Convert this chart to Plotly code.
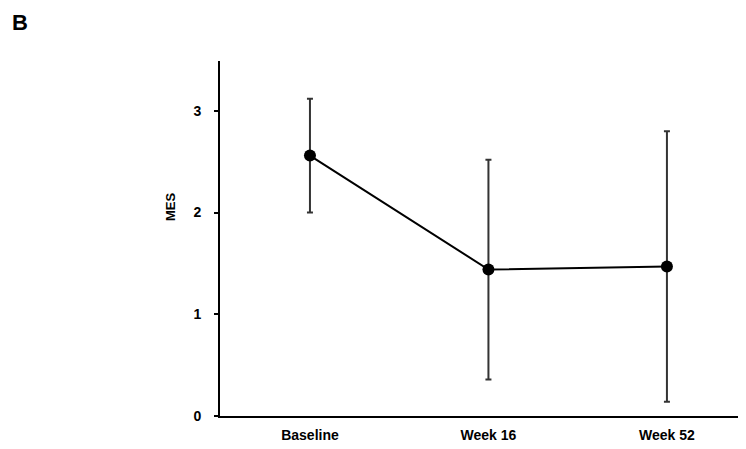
import plotly.graph_objects as go

categories = ["Baseline", "Week 16", "Week 52"]
mes_mean = [2.56, 1.44, 1.47]
mes_err = [0.56, 1.08, 1.33]
y_ticks = [0, 1, 2, 3]

x_pos = list(range(len(categories)))

# page body has an 8px margin, so the figure is 8px smaller and offset
W, H = 738, 441
L, R, T, B = 212, 0, 53, 33

fig = go.Figure()
fig.add_trace(go.Scatter(
    x=x_pos, y=mes_mean, mode="lines+markers",
    line=dict(color="black", width=2),
    marker=dict(color="black", size=12),
    error_y=dict(type="data", array=mes_err, visible=True,
                 color="#333333", thickness=2, width=3),
    showlegend=False,
))

font = dict(family="Liberation Sans, Arial", size=14, color="black")

pw, ph = W - L - R, H - T - B


def px_to_paper(x, y):
    return (x - L) / pw, (H - y - B) / ph


mes_x, mes_y = px_to_paper(162, 199)
b_x, b_y = px_to_paper(12, 15)

fig.update_layout(
    width=W, height=H,
    margin=dict(l=L, r=R, t=T, b=B),
    paper_bgcolor="white", plot_bgcolor="white",
    font=font,
    xaxis=dict(range=[-0.504, 2.443], tickvals=x_pos,
               ticktext=["<b>%s</b>" % c for c in categories],
               showline=True, linecolor="black", linewidth=2,
               ticks="", showgrid=False, zeroline=False,
               ticklabelstandoff=5),
    yaxis=dict(range=[0, 3.49], tickvals=y_ticks,
               ticktext=["<b>%d</b>" % v for v in y_ticks],
               showline=True, linecolor="black", linewidth=2,
               ticks="outside", ticklen=4, tickwidth=2, tickcolor="black",
               ticklabelstandoff=10,
               showgrid=False, zeroline=False),
    annotations=[
        dict(text="<b>MES</b>", x=mes_x, y=mes_y, xref="paper", yref="paper",
             xanchor="center", yanchor="middle",
             showarrow=False, textangle=-90, font=dict(size=13)),
        dict(text="<b>B</b>", x=b_x, y=b_y, xref="paper", yref="paper",
             xanchor="center", yanchor="middle",
             showarrow=False, font=dict(family="Liberation Sans, Arial", size=22)),
    ],
)
fig.write_html("out.html")
